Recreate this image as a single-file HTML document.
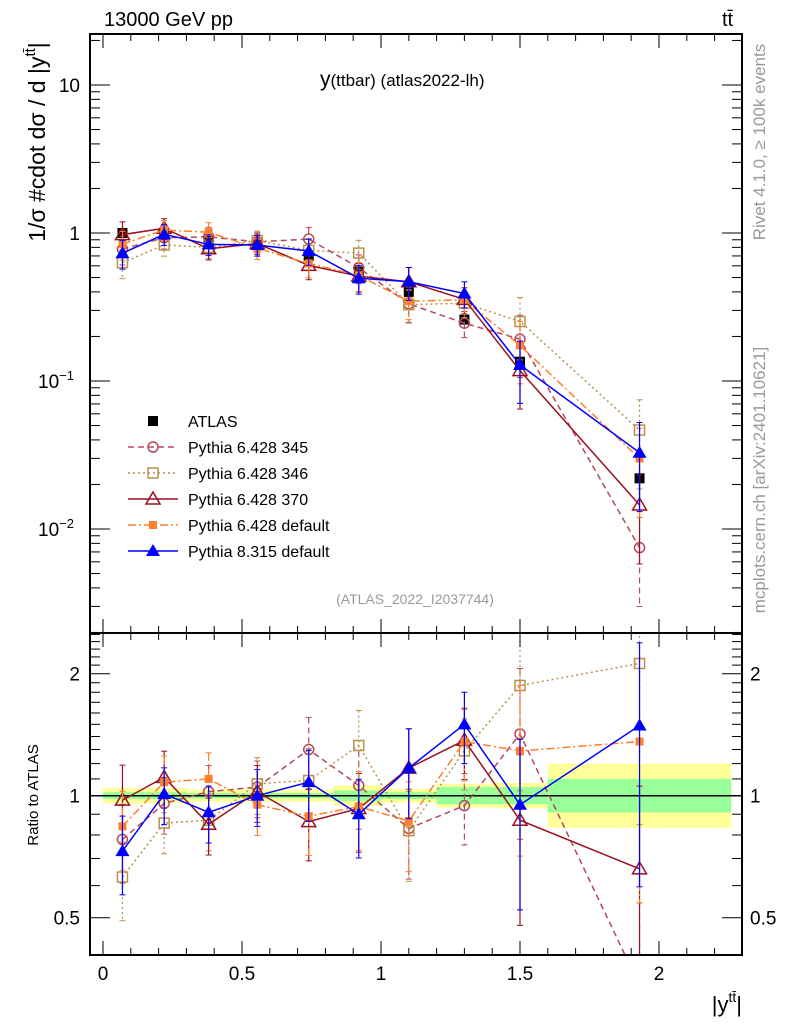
<!DOCTYPE html>
<html><head><meta charset="utf-8">
<style>
html,body{margin:0;padding:0;background:#fff;overflow:hidden;width:786px;height:1024px;}
svg{display:block;font-family:"Liberation Sans",sans-serif;}
</style></head>
<body>
<svg id="chart" width="786" height="1024" viewBox="0 0 786 1024" xmlns="http://www.w3.org/2000/svg">
<defs>
<clipPath id="clipMain"><rect x="90" y="34" width="652" height="599"/></clipPath>
<clipPath id="clipRatio"><rect x="90" y="633" width="652" height="322"/></clipPath>
</defs>
<g id="bands" clip-path="url(#clipRatio)"></g>
<g id="mainMarks" clip-path="url(#clipMain)"></g>
<g id="ratioMarks" clip-path="url(#clipRatio)"></g>
<g id="axes"></g>
<text x="104" y="26" font-size="20">13000 GeV pp</text>
<text x="722" y="26" font-size="20">tt̄</text>
<text x="320" y="86" font-size="21">y<tspan font-size="17">(ttbar) (atlas2022-lh)</tspan></text>
<text x="415" y="604" font-size="14" fill="#999" text-anchor="middle">(ATLAS_2022_I2037744)</text>
<text transform="translate(765,142) rotate(-90)" font-size="17" fill="#999" text-anchor="middle">Rivet 4.1.0, ≥ 100k events</text>
<text transform="translate(765,480) rotate(-90)" font-size="17" fill="#999" text-anchor="middle">mcplots.cern.ch [arXiv:2401.10621]</text>
<text transform="translate(45,142) rotate(-90)" font-size="23" text-anchor="middle">1/σ #cdot dσ / d |y<tspan font-size="15" dy="-10">tt̄</tspan><tspan dy="10">|</tspan></text>
<text transform="translate(38,795) rotate(-90)" font-size="15" text-anchor="middle">Ratio to ATLAS</text>
<text x="742" y="1012" font-size="22" text-anchor="end">|y<tspan font-size="14" dy="-10">tt̄</tspan><tspan dy="10">|</tspan></text>
<g id="legend"></g>
</svg>
<script>
const xCenters = [0.07, 0.22, 0.38, 0.555, 0.74, 0.92, 1.1, 1.3, 1.5, 1.93];
const atlasValues = [1.0, 0.97, 0.92, 0.83, 0.70, 0.55, 0.40, 0.26, 0.135, 0.022];
const atlasRelErr = [0.08, 0.06, 0.06, 0.05, 0.06, 0.07, 0.07, 0.08, 0.10, 0.18];
const ratio345 = [0.78, 0.957, 1.023, 1.05, 1.30, 1.06, 0.83, 0.945, 1.42, 0.34];
const ratio346 = [0.63, 0.856, 0.87, 1.07, 1.09, 1.33, 0.82, 1.29, 1.87, 2.12];
const ratio370 = [0.975, 1.11, 0.85, 1.023, 0.863, 0.93, 1.17, 1.37, 0.87, 0.66];
const ratio6def = [0.84, 1.08, 1.10, 0.95, 0.89, 0.94, 0.866, 1.36, 1.29, 1.36];
const ratio8def = [0.73, 1.01, 0.91, 1.0, 1.08, 0.90, 1.17, 1.50, 0.95, 1.49];
const mcRelErr = [0.22, 0.16, 0.16, 0.16, 0.2, 0.22, 0.25, 0.2, 0.45, 0.6];
const bandEdges = [0, 0.3, 0.55, 0.83, 1.0, 1.2, 1.4, 1.6, 2.26];
const bandYellow = [1.045, 1.035, 1.035, 1.06, 1.04, 1.07, 1.075, 1.2];
const bandGreen = [1.02, 1.015, 1.015, 1.03, 1.02, 1.05, 1.05, 1.1];
const mainTickLabels = ["10", "1", "10", "10"];
const ratioTicks = [0.5, 1, 2];
const xTicks = [0, 0.5, 1, 1.5, 2];

const NS = "http://www.w3.org/2000/svg";
const X0 = 90, X1 = 742, MT = 34, MB = 633, RB = 955;
const xPix = v => 103 + v * 278;
const yMain = v => 233 - 148 * Math.log10(v);
const yRatio = v => 795.7 - 122 * Math.log2(v);
function mk(tag, attrs, parent) {
  const e = document.createElementNS(NS, tag);
  for (const k in attrs) e.setAttribute(k, attrs[k]);
  parent.appendChild(e);
  return e;
}
const axes = document.getElementById('axes');
const bands = document.getElementById('bands');
const mainG = document.getElementById('mainMarks');
const ratioG = document.getElementById('ratioMarks');
const legend = document.getElementById('legend');

for (let i = 0; i < bandYellow.length; i++) {
  const xa = xPix(bandEdges[i]), xb = xPix(bandEdges[i + 1]);
  const y = mk('rect', {x: xa, y: yRatio(bandYellow[i]), width: xb - xa, height: yRatio(1 / bandYellow[i]) - yRatio(bandYellow[i]), fill: '#ffff99'}, bands);
  
  
  const g = mk('rect', {x: xa, y: yRatio(bandGreen[i]), width: xb - xa, height: yRatio(1 / bandGreen[i]) - yRatio(bandGreen[i]), fill: '#99ff99'}, bands);
  
  
}
const unity = mk('line', {x1: X0, x2: X1, y1: yRatio(1), y2: yRatio(1), stroke: '#000', 'stroke-width': 1.5}, bands);



function marker(kind, color, cx, cy, parent) {
  let e;
  if (kind === 'sqf') e = mk('rect', {x: cx - 5, y: cy - 5, width: 10, height: 10, fill: color}, parent);
  else if (kind === 'sqo') e = mk('rect', {x: cx - 5, y: cy - 5, width: 10, height: 10, fill: 'none', stroke: color, 'stroke-width': 1.5}, parent);
  else if (kind === 'sqfs') e = mk('rect', {x: cx - 4, y: cy - 4, width: 8, height: 8, fill: color}, parent);
  else if (kind === 'circ') e = mk('circle', {cx: cx, cy: cy, r: 5, fill: 'none', stroke: color, 'stroke-width': 1.5}, parent);
  else if (kind === 'trio') e = mk('path', {d: `M${cx},${cy - 7}L${cx + 7},${cy + 5}L${cx - 7},${cy + 5}Z`, fill: 'none', stroke: color, 'stroke-width': 1.5}, parent);
  else e = mk('path', {d: `M${cx},${cy - 7}L${cx + 7},${cy + 5}L${cx - 7},${cy + 5}Z`, fill: color}, parent);
  return e;
}

const series = [
  {name: 'Pythia 6.428 345', r: ratio345, color: '#b5475f', dash: '6,4', mk: 'circ', key: 'pythia6-345'},
  {name: 'Pythia 6.428 346', r: ratio346, color: '#b8924a', dash: '2,3', mk: 'sqo', key: 'pythia6-346'},
  {name: 'Pythia 6.428 370', r: ratio370, color: '#9a1020', dash: '', mk: 'trio', key: 'pythia6-370'},
  {name: 'Pythia 6.428 default', r: ratio6def, color: '#ff7f2a', dash: '8,3,2,3', mk: 'sqfs', key: 'pythia6-default'},
  {name: 'Pythia 8.315 default', r: ratio8def, color: '#0000ff', dash: '', mk: 'trif', key: 'pythia8-default'}
];

function drawSeries(s, parent, yf, vals) {
  const g = mk('g', {}, parent);
  
  
  const pts = vals.map((v, i) => `${xPix(xCenters[i])},${yf(v)}`).join(' ');
  const pl = mk('polyline', {points: pts, fill: 'none', stroke: s.color, 'stroke-width': 1.5}, g);
  if (s.dash) pl.setAttribute('stroke-dasharray', s.dash);
  
  
  vals.forEach((v, i) => {
    const cx = xPix(xCenters[i]);
    const e = mcRelErr[i];
    const lo = Math.max(v * (1 - e), 1e-4), hi = v * (1 + e);
    const eb = mk('line', {x1: cx, x2: cx, y1: yf(hi), y2: yf(lo), stroke: s.color, 'stroke-width': 1.2}, g);
    if (s.dash) eb.setAttribute('stroke-dasharray', s.dash);
    
    
    mk('line', {x1: cx - 3, x2: cx + 3, y1: yf(hi), y2: yf(hi), stroke: s.color}, g);
    mk('line', {x1: cx - 3, x2: cx + 3, y1: yf(lo), y2: yf(lo), stroke: s.color}, g);
    const m = marker(s.mk, s.color, cx, yf(v), g);
    
    
  });
}

const dg = mk('g', {}, mainG);


atlasValues.forEach((v, i) => {
  const cx = xPix(xCenters[i]);
  mk('line', {x1: cx, x2: cx, y1: yMain(v * (1 + atlasRelErr[i])), y2: yMain(v * (1 - atlasRelErr[i])), stroke: '#000', 'stroke-width': 1.2}, dg);
  const m = marker('sqf', '#000', cx, yMain(v), dg);
  
  
});
series.forEach(s => {
  drawSeries(s, mainG, yMain, s.r.map((r, i) => r * atlasValues[i]));
  drawSeries(s, ratioG, yRatio, s.r);
});

[[MT, MB], [MB, RB]].forEach(([a, b]) => {
  const f = mk('rect', {x: X0, y: a, width: X1 - X0, height: b - a, fill: 'none', stroke: '#000', 'stroke-width': 2}, axes);
  
  
});
for (let v = 0; v <= 2.3; v += 0.1) {
  const vv = Math.round(v * 10) / 10;
  const major = Math.abs(vv * 2 - Math.round(vv * 2)) < 1e-6;
  const L = major ? 14 : 7;
  const x = xPix(vv);
  [[MT, 1], [MB, -1], [MB, 1], [RB, -1]].forEach(([y, d]) => mk('line', {x1: x, x2: x, y1: y, y2: y + d * L, stroke: '#000'}, axes));
}
xTicks.forEach(v => {
  const t = mk('text', {x: xPix(v), y: 980, 'font-size': 19, 'text-anchor': 'middle'}, axes);
  t.textContent = String(v);
  
  
});
for (let d = -3; d <= 1; d++) {
  for (let m = 1; m <= 9; m++) {
    const v = m * Math.pow(10, d);
    const y = yMain(v);
    if (y < MT || y > MB) continue;
    const L = m === 1 ? 20 : 10;
    mk('line', {x1: X0, x2: X0 + L, y1: y, y2: y, stroke: '#000'}, axes);
    mk('line', {x1: X1, x2: X1 - L, y1: y, y2: y, stroke: '#000'}, axes);
  }
}
const mainTickVals = [10, 1, 0.1, 0.01];
const mainExp = ["", "", "−1", "−2"];
mainTickVals.forEach((v, i) => {
  const t = mk('text', {x: 80, y: yMain(v) + 7, 'font-size': 19, 'text-anchor': 'end'}, axes);
  t.textContent = mainTickLabels[i];
  if (mainExp[i]) {
    const sp = document.createElementNS(NS, 'tspan');
    sp.setAttribute('font-size', 13); sp.setAttribute('dy', -8);
    sp.textContent = mainExp[i];
    t.appendChild(sp);
    t.setAttribute('text-anchor', 'start');
    t.setAttribute('x', 38);
  }
  
  
});
for (let v = 0.4; v <= 2.55; v += 0.1) {
  const vv = Math.round(v * 10) / 10;
  const y = yRatio(vv);
  if (y < MB || y > RB) continue;
  const major = ratioTicks.includes(vv);
  const L = major ? 20 : 10;
  mk('line', {x1: X0, x2: X0 + L, y1: y, y2: y, stroke: '#000'}, axes);
  mk('line', {x1: X1, x2: X1 - L, y1: y, y2: y, stroke: '#000'}, axes);
}
ratioTicks.forEach(v => {
  const l = mk('text', {x: 80, y: yRatio(v) + 7, 'font-size': 19, 'text-anchor': 'end'}, axes);
  l.textContent = String(v);
  
  
  const r = mk('text', {x: 750, y: yRatio(v) + 7, 'font-size': 19}, axes);
  r.textContent = String(v);
  
  
});
const legItems = [{name: 'ATLAS', color: '#000', dash: '', mk: 'sqf', key: 'atlas'}].concat(series);
legItems.forEach((s, i) => {
  const y = 421 + i * 26;
  const g = mk('g', {}, legend);
  
  
  if (s.key !== 'atlas') {
    const l = mk('line', {x1: 128, x2: 178, y1: y, y2: y, stroke: s.color, 'stroke-width': 1.5}, g);
    if (s.dash) l.setAttribute('stroke-dasharray', s.dash);
  }
  marker(s.mk, s.color, 153, y, g);
  const t = mk('text', {x: 188, y: y + 6, 'font-size': 16}, g);
  t.textContent = s.name;
});
</script>
</body></html>
